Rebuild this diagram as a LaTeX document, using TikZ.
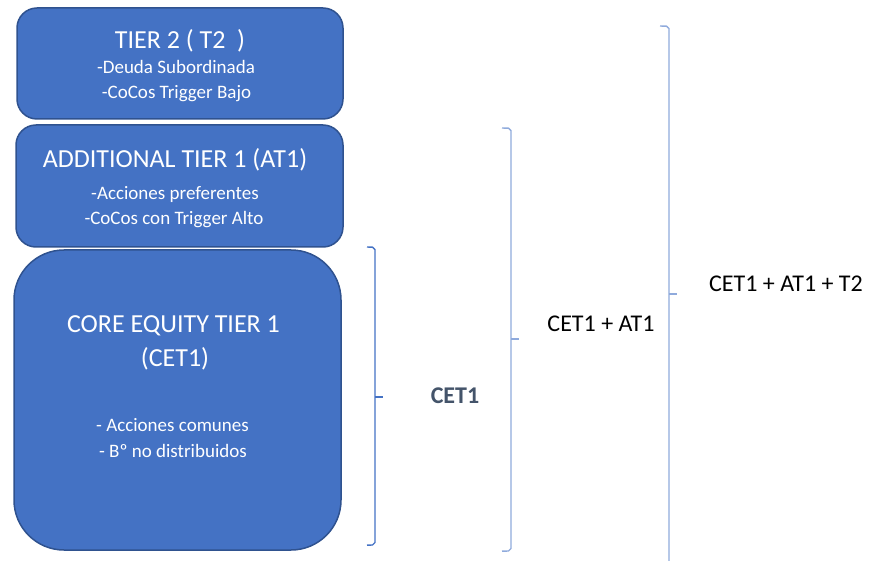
\documentclass[tikz,border=0pt]{standalone}
\usepackage{fontspec}
\setmainfont{Carlito}
\definecolor{boxfill}{HTML}{4472C4}
\definecolor{boxedge}{HTML}{2F528F}
\definecolor{brdark}{HTML}{4472C4}
\definecolor{brlight}{HTML}{8FAADC}
\definecolor{slate}{HTML}{44546A}
\begin{document}
\begin{tikzpicture}[x=1pt,y=-1pt,
  tierbox/.style={draw=boxedge, line width=1.5pt, fill=boxfill, inner sep=0pt},
  titletext/.style={text=white, inner sep=0pt, anchor=base, font=\fontsize{26}{31}\selectfont},
  subtext/.style={text=white, inner sep=0pt, anchor=base, font=\fontsize{19}{23}\selectfont},
  sumlabel/.style={text=black, inner sep=0pt, anchor=base, font=\fontsize{24}{29}\selectfont},
  brace/.style={line width=1.4pt, line join=round}]
\useasboundingbox (0,0) rectangle (870,561);
% boxes
\node[tierbox, rounded corners=20pt, minimum width=326pt, minimum height=111pt] (t2) at (180,63.5) {};
\node[tierbox, rounded corners=20pt, minimum width=327pt, minimum height=122pt] (at1) at (179.5,186) {};
\node[tierbox, rounded corners=50pt, minimum width=327pt, minimum height=300pt] (cet1) at (177.5,400) {};
% box texts
\node[titletext] (t2title) at (180,49) {TIER 2 ( T2\ \ )};
\node[subtext] (t2a) at (176,74) {-Deuda Subordinada};
\node[subtext] (t2b) at (176.5,98.5) {-CoCos Trigger Bajo};
\node[titletext] (at1title) at (175,167.5) {ADDITIONAL TIER 1 (AT1)};
\node[subtext] (at1a) at (175,199.5) {-Acciones preferentes};
\node[subtext] (at1b) at (174,224.5) {-CoCos con Trigger Alto};
\node[titletext] (cet1title) at (173.5,332) {CORE EQUITY TIER 1};
\node[titletext] (cet1title2) at (175,366) {(CET1)};
\node[subtext] (cet1a) at (172.5,431) {- Acciones comunes};
\node[subtext] (cet1b) at (173,457) {- Bº no distribuidos};
% braces
\draw[brace, draw=brdark] (367,247) -- (372.5,247.2) -- (375,249.5) -- (375,542.5) -- (372.5,545) -- (367,545.2);
\draw[brace, draw=brdark] (375,397) -- (383,397);
\draw[brace, draw=brlight] (502,128) -- (508.5,128.2) -- (511,130.5) -- (511,548.5) -- (508.5,551) -- (502,551.2);
\draw[brace, draw=brlight] (511,339) -- (519,339);
\draw[brace, draw=brlight] (660,26) -- (666.5,26.2) -- (669,28.5) -- (669,561);
\draw[brace, draw=brlight] (669,294) -- (677,294);
% labels
\node[sumlabel, text=slate, font=\fontsize{24}{29}\selectfont\bfseries] (lcet1) at (455,403) {CET1};
\node[sumlabel] (lat1) at (601,331) {CET1 + AT1};
\node[sumlabel] (lt2) at (786,292) {CET1 + AT1 + T2};
\end{tikzpicture}
\end{document}
